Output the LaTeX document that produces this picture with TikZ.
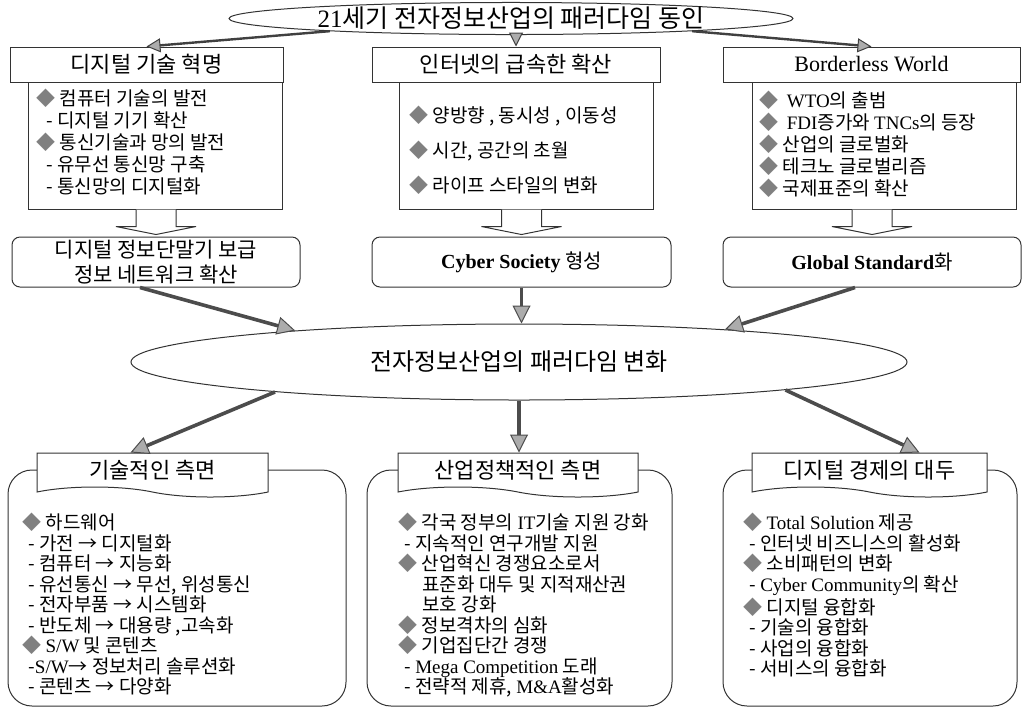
\documentclass[tikz,border=0pt]{standalone}
\usepackage{fontspec}
\setmainfont{Noto Sans CJK KR}
\newfontfamily\latfont{Liberation Serif}
\newcommand{\eng}[1]{{\latfont #1}}
\usepackage{tikz}
\usetikzlibrary{arrows.meta, calc, positioning, shapes.geometric, shapes.symbols}

\newcommand{\dia}{{\color{gray}◆}}

\begin{document}
\begin{tikzpicture}[x=0.5pt,y=-0.5pt,
    ell/.style={ellipse, draw=black!80, line width=0.5pt, inner sep=0pt},
    box/.style={draw=black!80, line width=0.5pt, inner sep=0pt, minimum height=17.5pt,
                font=\fontsize{11}{12}\selectfont},
    lbox/.style={draw=black!80, line width=0.5pt, inner sep=0pt, minimum height=63.5pt},
    rbox/.style={draw=black!80, line width=0.5pt, rounded corners=4pt, inner sep=0pt,
                 minimum height=25pt, align=center, font=\fontsize{10.5}{12.5}\selectfont},
    dbox/.style={draw=black!80, line width=0.5pt, rounded corners=12pt, inner sep=0pt,
                 minimum height=118pt},
    tab/.style={tape, draw=black!80, line width=0.5pt, fill=white, tape bend top=none,
                tape bend bottom=out and in, tape bend height=5pt, inner sep=0pt,
                minimum height=22pt, font=\fontsize{11}{12}\selectfont},
    list/.style={anchor=north west, inner sep=0pt, align=left,
                 font=\fontsize{9.5}{11}\selectfont},
    arr/.style={draw=black!75, line width=1.2pt,
                -{Triangle[length=7pt,width=7pt,fill=gray!65,line width=0.5pt]}},
    arr2/.style={draw=black!70, line width=1.8pt,
                -{Triangle[length=9pt,width=9pt,fill=gray!65,line width=0.5pt]}},
    hollow/.style={draw=black!80, line width=0.5pt, fill=white}]
\useasboundingbox (0,0) rectangle (1022,714);

% top: drivers
\node[ell, minimum width=282pt, minimum height=15pt, font=\fontsize{12.5}{13}\selectfont]
    (top) at (511,18.5) {\eng{21}세기 전자정보산업의 패러다임 동인};

\node[lbox, minimum width=127pt] (c_1) at (155,145.5) {};
\node[lbox, minimum width=127pt] (c_2) at (526,145.5) {};
\node[lbox, minimum width=132pt] (c_3) at (884,145.5) {};

\node[box, minimum width=136.5pt] (t_1) at (146.5,64.5) {디지털 기술 혁명};
\node[box, minimum width=144pt]   (t_2) at (516,64.5)   {인터넷의 급속한 확산};
\node[box, minimum width=148.5pt] (t_3) at (871.5,64.5) {\eng{Borderless World}};

\node[list] (l_1) at (36,89) {\dia\ 컴퓨터 기술의 발전\\
    \hspace{5pt}- 디지털 기기 확산\\
    \dia\ 통신기술과 망의 발전\\
    \hspace{5pt}- 유무선 통신망 구축\\
    \hspace{5pt}- 통신망의 디지털화};
\node[list, font=\fontsize{9.5}{17.5}\selectfont] (l_2) at (409,106) {\dia\ 양방향 , 동시성 , 이동성\\
    \dia\ 시간, 공간의 초월\\
    \dia\ 라이프 스타일의 변화};
\node[list] (l_3) at (759,91) {\dia\ \ \eng{WTO}의 출범\\
    \dia\ \ \eng{FDI}증가와 \eng{TNCs}의 등장\\
    \dia\ 산업의 글로벌화\\
    \dia\ 테크노 글로벌리즘\\
    \dia\ 국제표준의 확산};

% results
\node[rbox, minimum width=144pt]   (b_1) at (156,262)   {디지털 정보단말기 보급\\정보 네트워크 확산};
\node[rbox, minimum width=149.5pt, font=\fontsize{10}{12}\selectfont]
    (b_2) at (521.5,262) {\eng{\bfseries Cyber Society} 형성};
\node[rbox, minimum width=149pt, font=\fontsize{10}{12}\selectfont]
    (b_3) at (872,262) {\eng{\bfseries Global Standard}화};

\foreach \src/\dst in {c_1/b_1,c_2/b_2,c_3/b_3}
    \draw[hollow] ($(\dst.north |- \src.south)+(-10pt,0)$) -- ++(0,-8.5pt) -- ++(-10pt,0)
        -- ++(20pt,-4pt) -- ++(20pt,4pt) -- ++(-10pt,0) -- ++(0,8.5pt);

\draw[arr] (top.184) -- (t_1.north);
\draw[arr] (top.south -| t_2.north) -- (t_2.north);
\draw[arr] (top.356) -- (t_3.north);

% paradigm shift
\node[ell, minimum width=388pt, minimum height=38pt, font=\fontsize{12}{14}\selectfont]
    (mid) at (519,362) {전자정보산업의 패러다임 변화};

\draw[arr2] ([xshift=-8pt]b_1.south) -- (mid.172);
\draw[arr2] (b_2.south) -- (b_2.south |- mid.north);
\draw[arr2] ([xshift=-8.5pt]b_3.south) -- (mid.9);

% aspects
\node[dbox, minimum width=169pt]   (d_1) at (177,588)   {};
\node[dbox, minimum width=152.5pt] (d_2) at (519.5,588) {};
\node[dbox, minimum width=147pt]   (d_3) at (870,588)   {};

\node[tab, minimum width=115.5pt] (h_1) at (152.5,470) {기술적인 측면};
\node[tab, minimum width=120pt]   (h_2) at (518,470)   {산업정책적인 측면};
\node[tab, minimum width=117.5pt] (h_3) at (869.5,470) {디지털 경제의 대두};

\draw[arr2] (mid.187) -- ([xshift=-11pt]h_1.north);
\draw[arr2] (mid.south) -- (mid.south |- h_2.north);
\draw[arr2] (mid.354) -- ([xshift=25pt]h_3.north);

\node[list, font=\fontsize{9.5}{10.25}\selectfont] (k_1) at (22,513) {\dia\ 하드웨어\\
    \hspace{3pt}- 가전 → 디지털화\\
    \hspace{3pt}- 컴퓨터 → 지능화\\
    \hspace{3pt}- 유선통신 → 무선, 위성통신\\
    \hspace{3pt}- 전자부품 → 시스템화\\
    \hspace{3pt}- 반도체 → 대용량 ,고속화\\
    \dia\ \eng{S/W} 및 콘텐츠\\
    \hspace{3pt}-\eng{S/W}→ 정보처리 솔루션화\\
    \hspace{3pt}- 콘텐츠 → 다양화};
\node[list, font=\fontsize{9.5}{10.25}\selectfont] (k_2) at (398,513) {\dia\ 각국 정부의 \eng{IT}기술 지원 강화\\
    \hspace{3pt}- 지속적인 연구개발 지원\\
    \dia\ 산업혁신 경쟁요소로서\\
    \hspace{12pt}표준화 대두 및 지적재산권\\
    \hspace{12pt}보호 강화\\
    \dia\ 정보격차의 심화\\
    \dia\ 기업집단간 경쟁\\
    \hspace{3pt}- \eng{Mega Competition} 도래\\
    \hspace{3pt}- 전략적 제휴, \eng{M\&A}활성화};
\node[list, font=\fontsize{9.5}{10.25}\selectfont] (k_3) at (743,513) {\dia\ \eng{Total Solution} 제공\\
    \hspace{3pt}- 인터넷 비즈니스의 활성화\\
    \dia\ 소비패턴의 변화\\
    \hspace{3pt}- \eng{Cyber Community}의 확산\\
    \dia\ 디지털 융합화\\
    \hspace{3pt}- 기술의 융합화\\
    \hspace{3pt}- 사업의 융합화\\
    \hspace{3pt}- 서비스의 융합화};
\end{tikzpicture}
\end{document}
